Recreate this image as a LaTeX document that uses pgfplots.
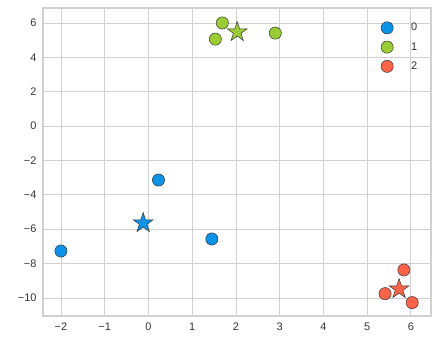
\documentclass[border=0pt]{standalone}
\usepackage{pgfplots}
\pgfplotsset{compat=1.18}
\usepackage{fontspec}
\setmainfont{Liberation Sans}
\definecolor{cblue}{HTML}{0A93EA}
\definecolor{cgreen}{HTML}{9ACD32}
\definecolor{cred}{HTML}{FF6347}
\definecolor{gridc}{HTML}{D0D0D0}
\definecolor{tickc}{HTML}{333333}
\pgfdeclareplotmark{fstar}{%
  \pgfpathmoveto{\pgfpointpolar{90}{\pgfplotmarksize}}%
  \pgfpathlineto{\pgfpointpolar{126}{0.382\pgfplotmarksize}}%
  \pgfpathlineto{\pgfpointpolar{162}{\pgfplotmarksize}}%
  \pgfpathlineto{\pgfpointpolar{198}{0.382\pgfplotmarksize}}%
  \pgfpathlineto{\pgfpointpolar{234}{\pgfplotmarksize}}%
  \pgfpathlineto{\pgfpointpolar{270}{0.382\pgfplotmarksize}}%
  \pgfpathlineto{\pgfpointpolar{306}{\pgfplotmarksize}}%
  \pgfpathlineto{\pgfpointpolar{342}{0.382\pgfplotmarksize}}%
  \pgfpathlineto{\pgfpointpolar{18}{\pgfplotmarksize}}%
  \pgfpathlineto{\pgfpointpolar{54}{0.382\pgfplotmarksize}}%
  \pgfpathclose
  \pgfusepathqfillstroke}
\begin{document}
\begin{tikzpicture}
\begin{axis}[
  scale only axis, width=388bp, height=308bp,
  xmin=-2.41, xmax=6.46, ymin=-11.05, ymax=6.87,
  xtick={-2,...,6}, ytick={-10,-8,...,6},
  xticklabels={−2,−1,0,1,2,3,4,5,6},
  yticklabels={−10,−8,−6,−4,−2,0,2,4,6},
  grid=major, major grid style={gridc, line width=0.8pt},
  axis line style={gridc, line width=1.3pt},
  tick style={draw=none},
  ticklabel style={font=\fontsize{11}{13}\selectfont, text=tickc},
  xticklabel style={yshift=-3bp},
  yticklabel style={xshift=-3bp},
  legend style={at={(0.978,0.964)}, anchor=north east, draw=none, fill=none,
    font=\fontsize{11}{13}\selectfont, text=tickc, row sep=6.2pt,
    /tikz/every odd column/.append style={column sep=16pt}},
  legend cell align=left,
]
\addplot[only marks, mark=*, mark size=6.1bp, mark options={fill=cblue, draw=black!80, line width=0.5pt}]
  coordinates {(-2.0,-7.27) (0.23,-3.14) (1.45,-6.57)};
\addlegendentry{0}
\addplot[only marks, mark=*, mark size=6.1bp, mark options={fill=cgreen, draw=black!80, line width=0.5pt}]
  coordinates {(1.53,5.06) (1.69,6.0) (2.90,5.41)};
\addlegendentry{1}
\addplot[only marks, mark=*, mark size=6.1bp, mark options={fill=cred, draw=black!80, line width=0.5pt}]
  coordinates {(5.84,-8.37) (5.41,-9.75) (6.03,-10.27)};
\addlegendentry{2}
\addplot[forget plot, only marks, mark=fstar, mark size=10.5bp, mark options={fill=cblue, draw=black!80, line width=0.5pt}]
  coordinates {(-0.12,-5.64)};
\addplot[forget plot, only marks, mark=fstar, mark size=10.5bp, mark options={fill=cgreen, draw=black!80, line width=0.5pt}]
  coordinates {(2.03,5.47)};
\addplot[forget plot, only marks, mark=fstar, mark size=10.5bp, mark options={fill=cred, draw=black!80, line width=0.5pt}]
  coordinates {(5.73,-9.48)};
\coordinate (sw) at (rel axis cs:0,0);
\coordinate (ne) at (rel axis cs:1,1);
\end{axis}
\path ([shift={(-43bp,-33bp)}]sw) rectangle ([shift={(9bp,8bp)}]ne);
\end{tikzpicture}
\end{document}
